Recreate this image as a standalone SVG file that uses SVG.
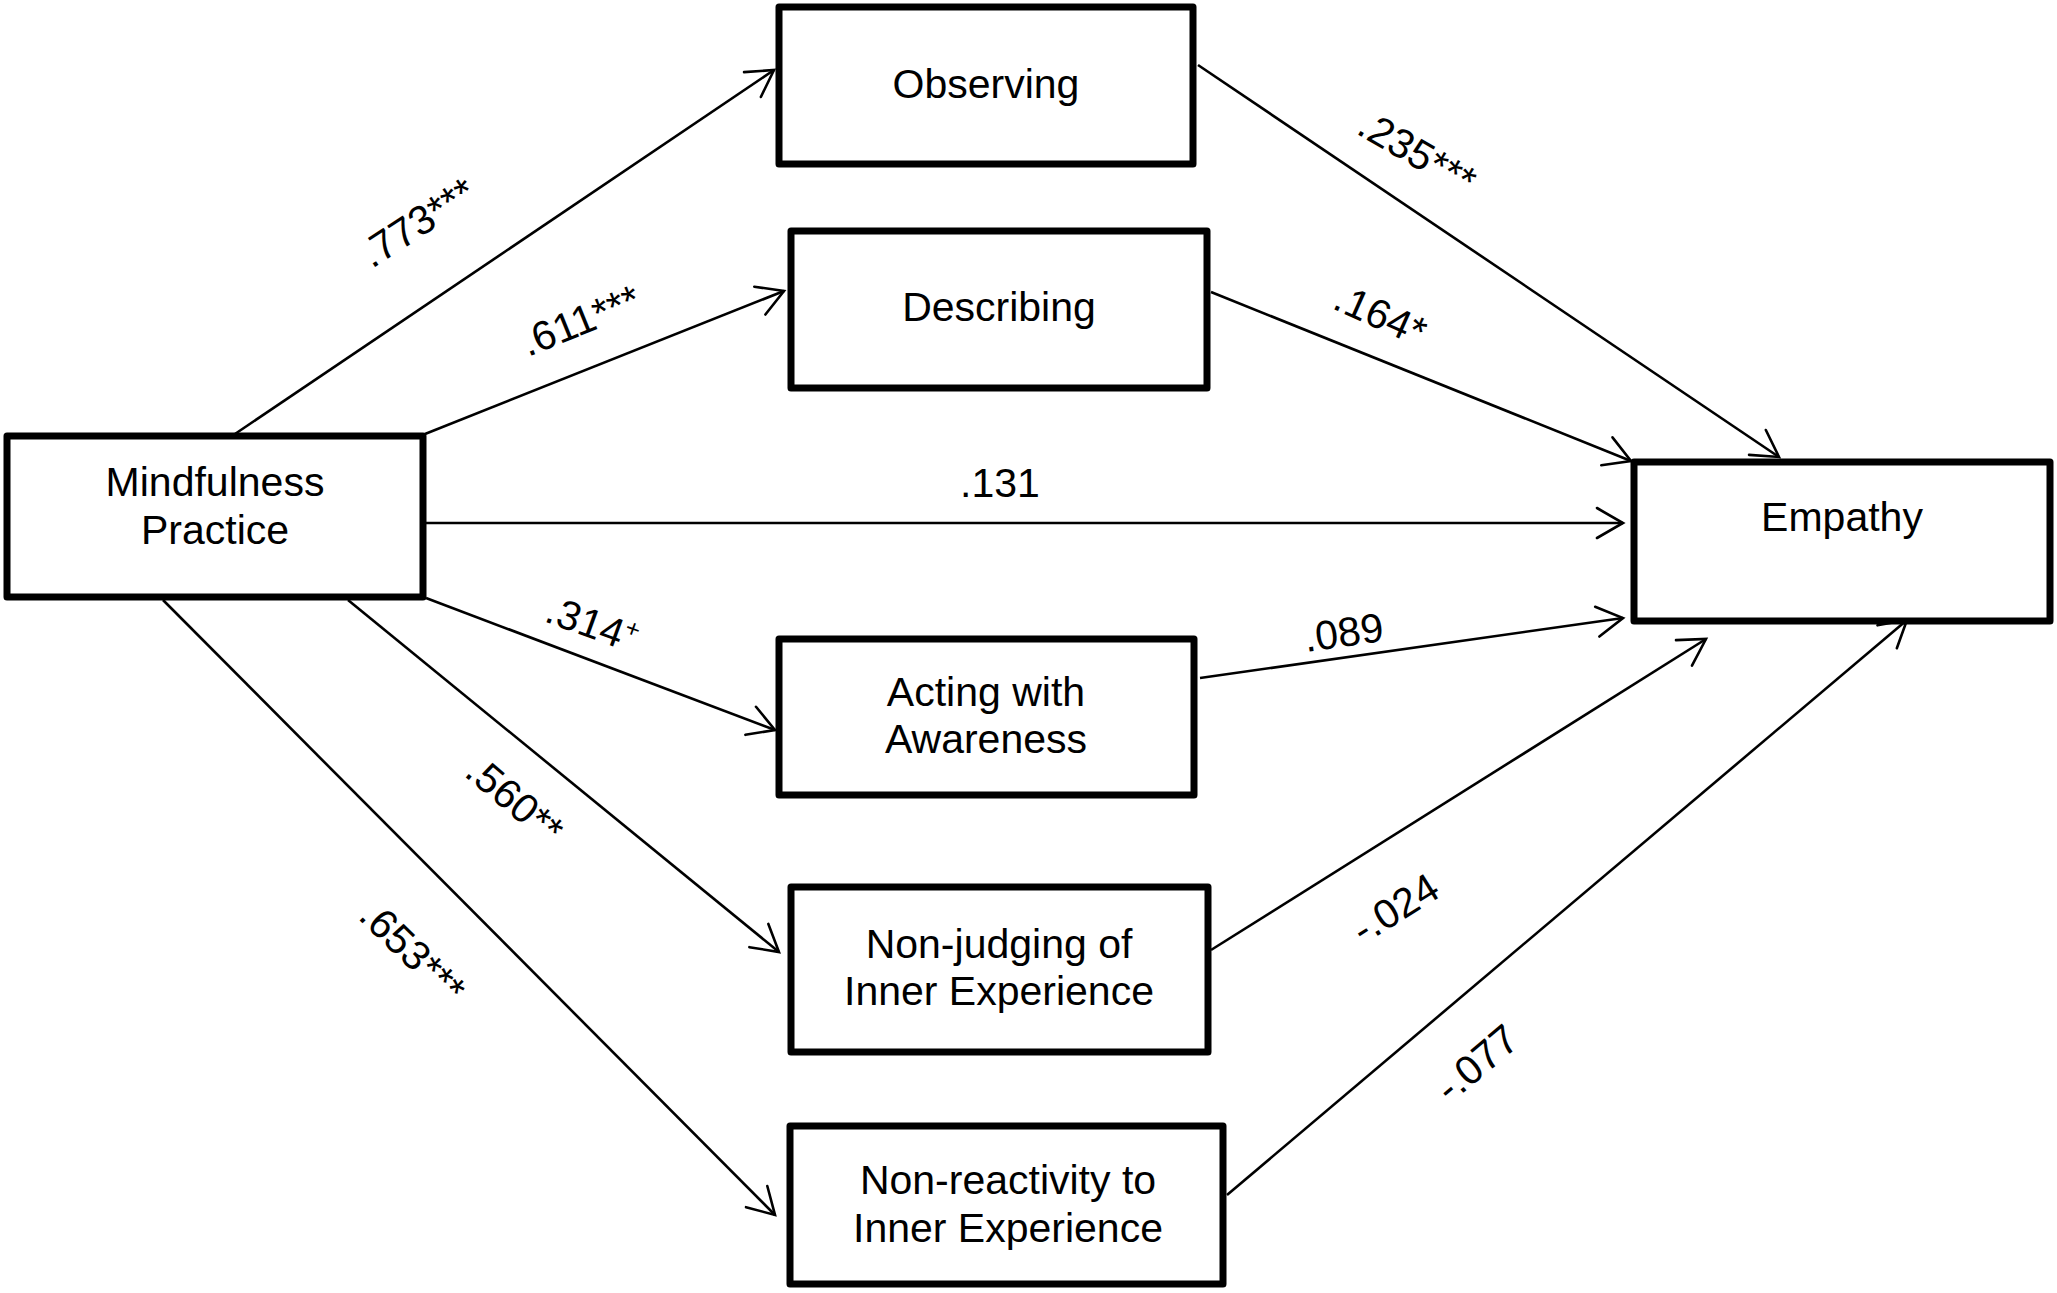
<svg xmlns="http://www.w3.org/2000/svg" width="2057" height="1293" viewBox="0 0 2057 1293">
<style>
.box{fill:#fff;stroke:#000;stroke-width:7;stroke-linejoin:round}
.t{font-family:"Liberation Sans",Arial,sans-serif;font-size:41px;fill:#000;text-anchor:middle}
.lb{font-family:"Liberation Sans",Arial,sans-serif;font-size:41px;fill:#000}
.c{fill:none;stroke:#000;stroke-width:2.6}
</style>
<defs>
<marker id="arr" markerUnits="userSpaceOnUse" markerWidth="40" markerHeight="40" viewBox="-35 -20 40 40" refX="0" refY="0" orient="auto" overflow="visible">
<path d="M-26,-15 L0,0 L-26,15" fill="none" stroke="#000" stroke-width="2.6" stroke-linecap="round" stroke-linejoin="miter"/>
</marker>
</defs>
<rect width="2057" height="1293" fill="#fff"/>
<g id="connectors">
<path class="c" d="M232,436 L774,70" marker-end="url(#arr)"/>
<path class="c" d="M425,434 L784,291" marker-end="url(#arr)"/>
<path class="c" d="M423,523 L1623,523" marker-end="url(#arr)"/>
<path class="c" d="M426,598 L775,730" marker-end="url(#arr)"/>
<path class="c" d="M348,600 L779,952" marker-end="url(#arr)"/>
<path class="c" d="M163,600 L775,1215" marker-end="url(#arr)"/>
<path class="c" d="M1198,65 L1779,457" marker-end="url(#arr)"/>
<path class="c" d="M1211,292 L1631,461" marker-end="url(#arr)"/>
<path class="c" d="M1200,678 L1623,618" marker-end="url(#arr)"/>
<path class="c" d="M1211,950 L1706,639" marker-end="url(#arr)"/>
<path class="c" d="M1227,1195 L1907,620" marker-end="url(#arr)"/>
</g>
<g id="labels">
<text class="lb" transform="translate(372,269) rotate(-33)">.773***</text>
<text class="lb" transform="translate(528,357) rotate(-22)">.611***</text>
<text class="lb" x="1000" y="497" text-anchor="middle">.131</text>
<text class="lb" transform="translate(543,621) rotate(20)">.314<tspan font-size="25" dy="-15">+</tspan></text>
<text class="lb" transform="translate(463,775) rotate(40)">.560**</text>
<text class="lb" transform="translate(357,918) rotate(44)">.653***</text>
<text class="lb" transform="translate(1355,133) rotate(30)">.235***</text>
<text class="lb" transform="translate(1331,308) rotate(24)">.164*</text>
<text class="lb" transform="translate(1306,652) rotate(-8)">.089</text>
<text class="lb" transform="translate(1363,945) rotate(-32)">-.024</text>
<text class="lb" transform="translate(1450,1104) rotate(-40)">-.077</text>
</g>
<g id="node-mindfulness">
<rect class="box" x="7" y="436" width="416" height="161"/>
<text class="t" x="215" y="496">Mindfulness</text>
<text class="t" x="215" y="544">Practice</text>
</g>
<g id="node-observing">
<rect class="box" x="779" y="7" width="414" height="157"/>
<text class="t" x="986" y="98">Observing</text>
</g>
<g id="node-describing">
<rect class="box" x="791" y="231" width="416" height="157"/>
<text class="t" x="999" y="321">Describing</text>
</g>
<g id="node-acting">
<rect class="box" x="779" y="639" width="415" height="156"/>
<text class="t" x="986" y="706">Acting with</text>
<text class="t" x="986" y="753">Awareness</text>
</g>
<g id="node-nonjudging">
<rect class="box" x="791" y="887" width="417" height="165"/>
<text class="t" x="999" y="958">Non-judging of</text>
<text class="t" x="999" y="1005">Inner Experience</text>
</g>
<g id="node-nonreactivity">
<rect class="box" x="790" y="1126" width="433" height="158"/>
<text class="t" x="1008" y="1194">Non-reactivity to</text>
<text class="t" x="1008" y="1242">Inner Experience</text>
</g>
<g id="node-empathy">
<rect class="box" x="1634" y="462" width="416" height="159"/>
<text class="t" x="1842" y="531">Empathy</text>
</g>
</svg>
